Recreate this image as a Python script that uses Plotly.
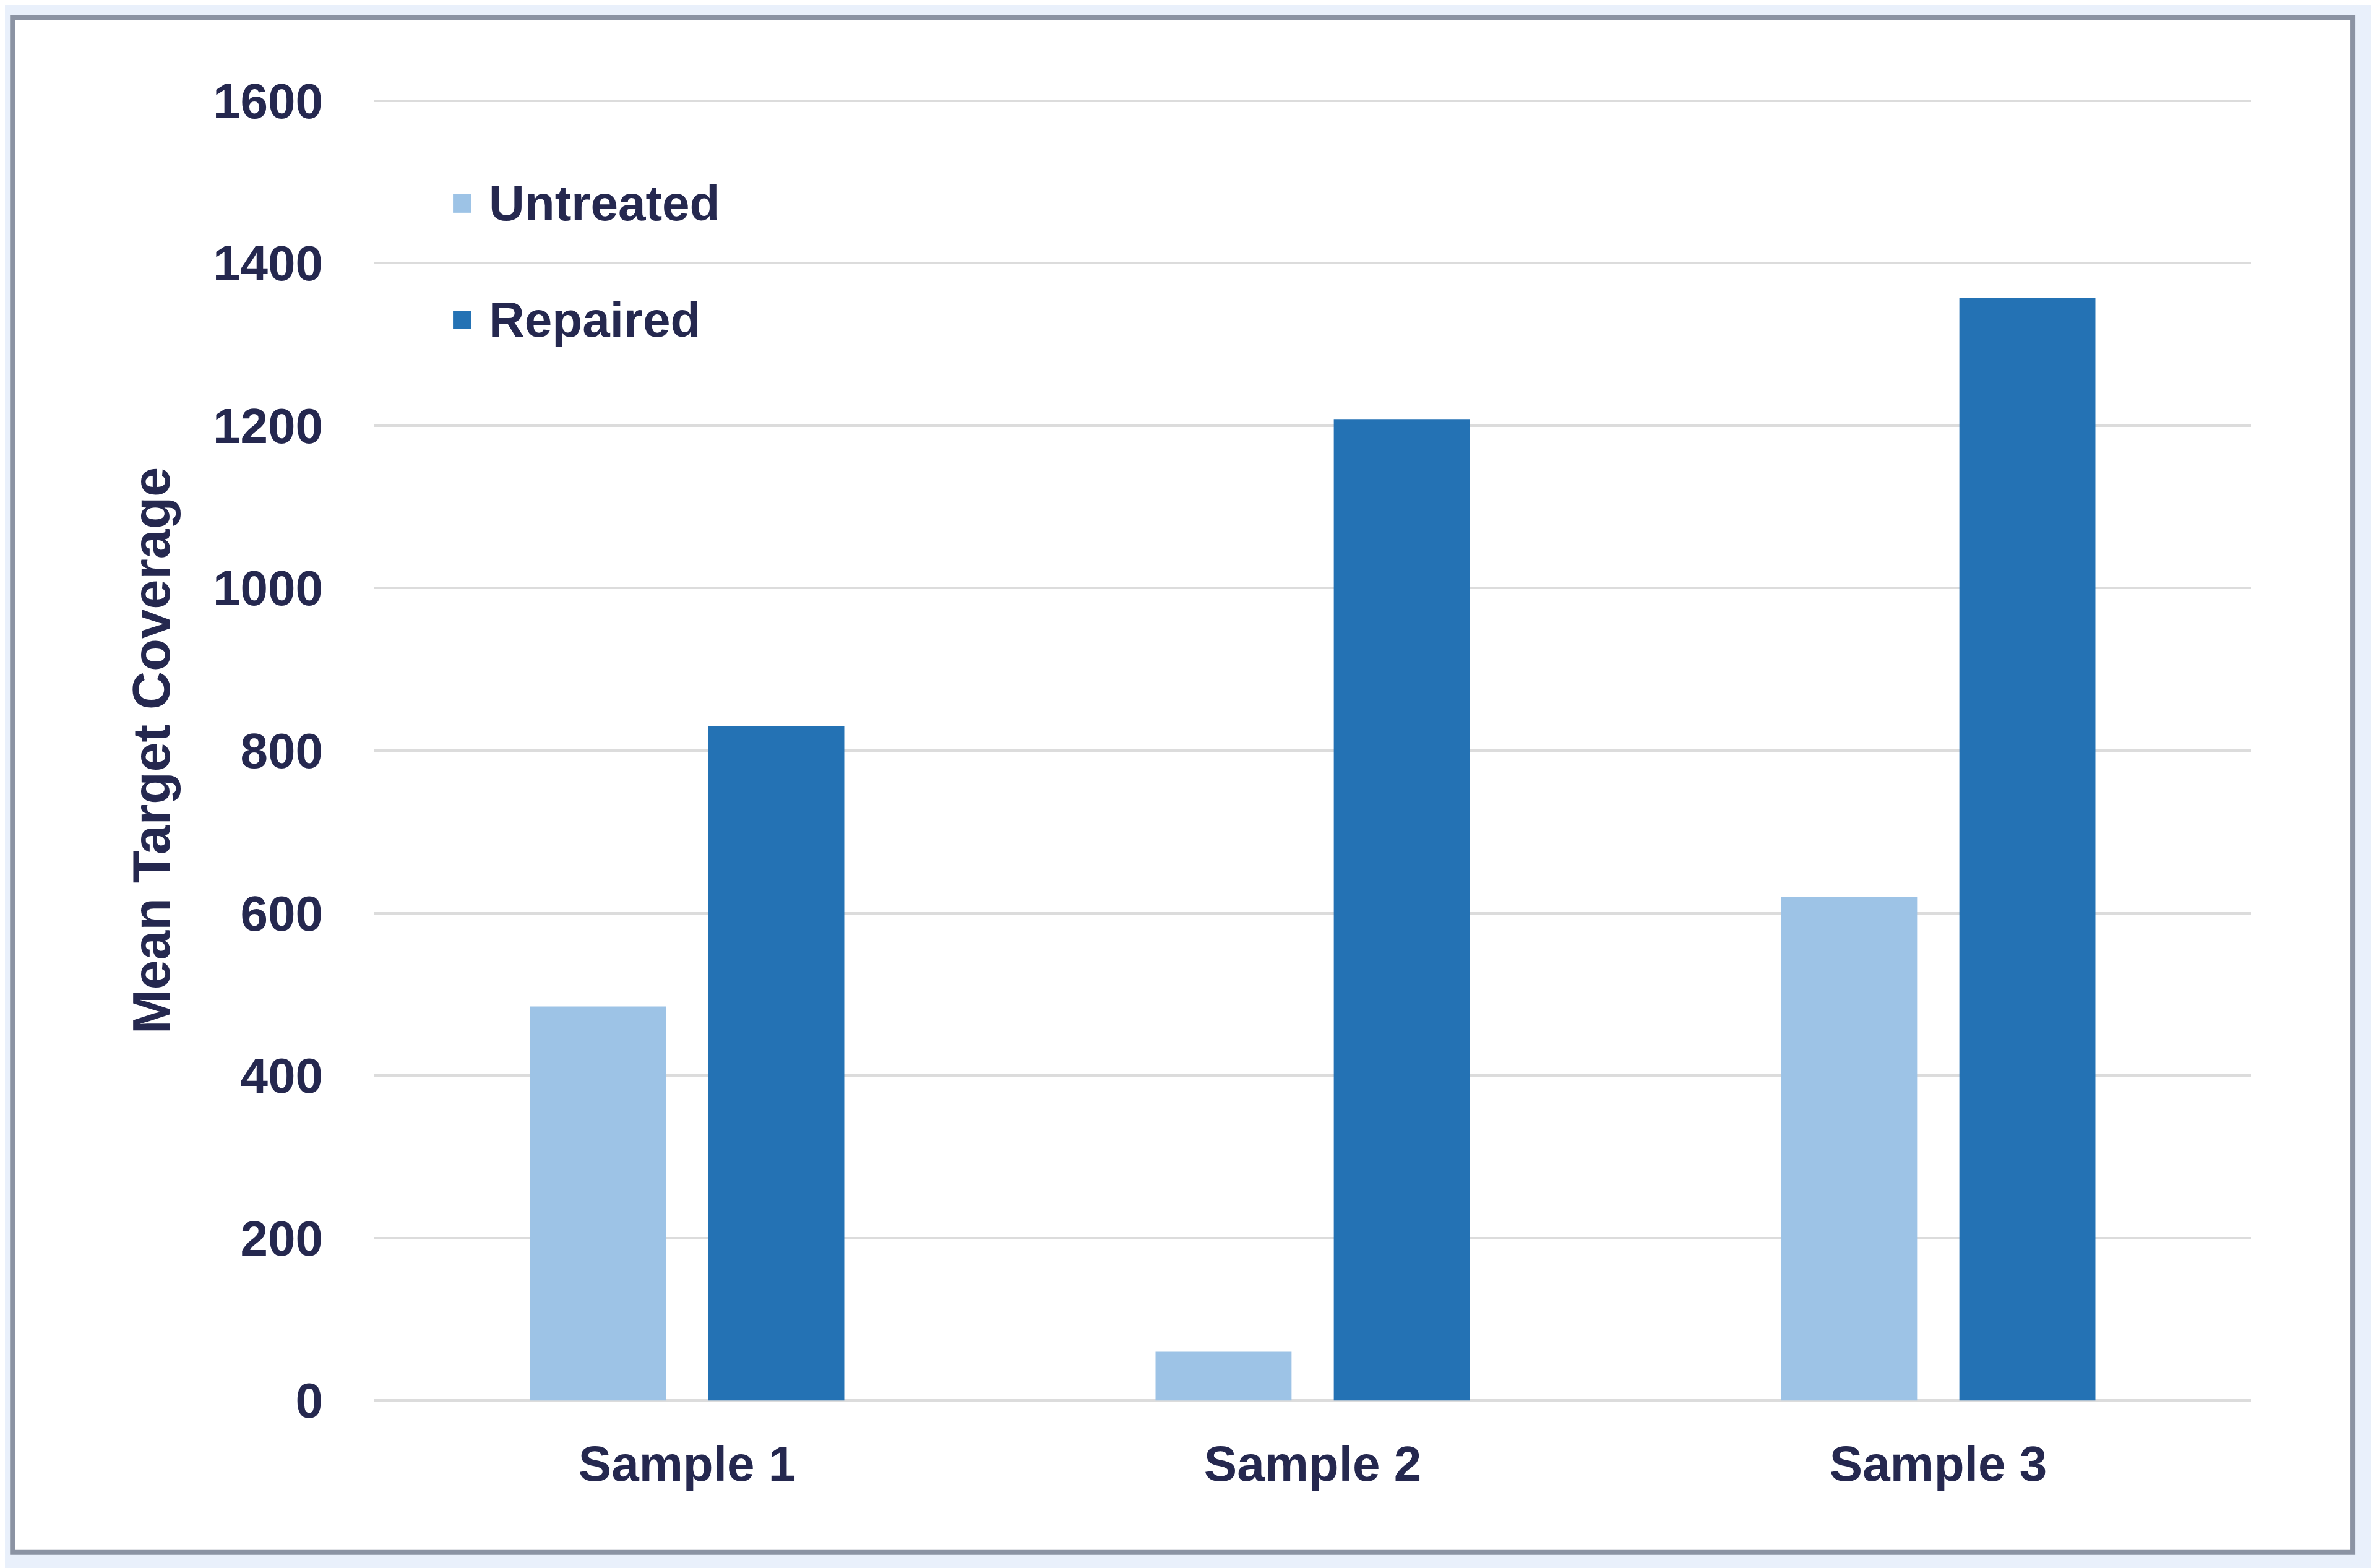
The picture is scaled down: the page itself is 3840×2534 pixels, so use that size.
import plotly.graph_objects as go

categories = ["Sample 1", "Sample 2", "Sample 3"]
series_names = ["Untreated", "Repaired"]
untreated = [485, 60, 620]
repaired = [830, 1208, 1357]
y_ticks = [0, 200, 400, 600, 800, 1000, 1200, 1400, 1600]

TEXT = "#25284f"
FONT = "Liberation Sans"
COLORS = ["#9dc3e6", "#2472b4"]
FS = 80

fig = go.Figure()
for name, vals, col in zip(series_names, [untreated, repaired], COLORS):
    fig.add_trace(go.Bar(name=name, x=categories, y=vals,
                         marker=dict(color=col, line=dict(width=0)),
                         showlegend=False))

bold = dict(family=FONT, size=FS, color=TEXT, weight="bold")

fig.update_layout(
    width=3840, height=2534,
    margin=dict(l=597, r=210, t=152, b=276, autoexpand=False),
    paper_bgcolor="#e9f0fb",
    plot_bgcolor="white",
    barmode="group", bargap=0.43, bargroupgap=0.237,
    font=bold,
    xaxis=dict(tickfont=bold, showgrid=False, showline=False, ticks="",
               ticklabelstandoff=46),
    yaxis=dict(range=[-2, 1602], tickvals=y_ticks, tickformat="d",
               tickfont=bold, showgrid=True, gridcolor="#dcdcdc", gridwidth=4,
               zeroline=False, showline=False, ticks="", ticklabelstandoff=82,
               title=dict(text="Mean Target Coverage", standoff=40,
                          font=dict(family=FONT, size=86, color=TEXT, weight="bold"))),
)

# manual legend (square keys + text), placed in paper coordinates
leg_y = [0.9198, 0.8305]
for name, col, yy in zip(series_names, COLORS, leg_y):
    fig.add_shape(type="rect", xref="paper", yref="paper",
                  x0=0.0468 - 0.0049, x1=0.0468 + 0.0049,
                  y0=yy - 0.0071, y1=yy + 0.0071,
                  fillcolor=col, line=dict(width=0))
    fig.add_annotation(xref="paper", yref="paper", x=0.0605, y=yy,
                       xanchor="left", yanchor="middle", showarrow=False,
                       text=name, font=bold)

# white chart area with gray frame
fig.add_shape(type="rect", xref="paper", yref="paper",
              x0=-0.1928, x1=1.0541, y0=-0.1153, y1=1.0626,
              fillcolor="white", line=dict(color="#8b93a3", width=8), layer="below")

fig.write_html("out.html")
